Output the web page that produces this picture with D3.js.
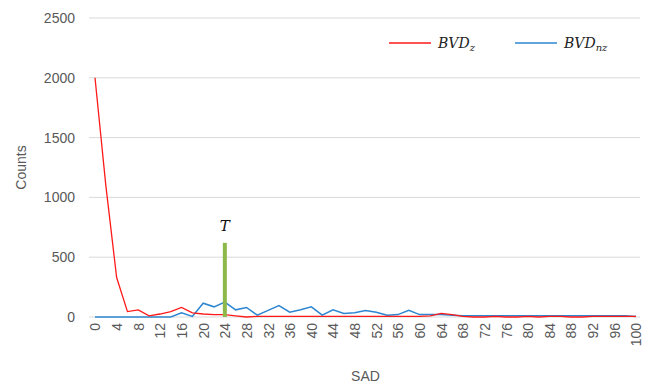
<!DOCTYPE html>
<html>
<head>
<meta charset="utf-8">
<script src="https://cdn.jsdelivr.net/npm/d3@7"></script>
<style>
  html, body { margin: 0; padding: 0; background: #fff; }
  svg { display: block; font-family: "Liberation Sans", Arial, sans-serif; }
</style>
</head>
<body>
<svg id="chart" width="657" height="387"></svg>
<script>
// SAD bins (step 2) and counts for the two block groups
const sad = d3.range(0, 101, 2);
const bvdZ = [2000, 1100, 330, 45, 60, 10, 25, 45, 80, 35,
              25, 20, 20, 10, 0, 5, 5, 5, 5, 5,
              5, 5, 5, 5, 5, 5, 5, 5, 5, 5,
              5, 10, 30, 20, 5, 0, 0, 5, 0, 0,
              5, 0, 5, 5, 0, 0, 5, 5, 5, 5, 5];
const bvdNz = [0, 0, 0, 0, 0, 0, 0, 0, 35, 5,
               115, 85, 125, 60, 80, 15, 55, 95, 40, 60,
               85, 15, 60, 30, 35, 55, 40, 15, 20, 55,
               20, 20, 20, 15, 10, 10, 10, 10, 10, 10,
               10, 10, 10, 10, 10, 10, 10, 10, 10, 10, 5];
const yTicks = [0, 500, 1000, 1500, 2000, 2500];
const xTicks = d3.range(0, 101, 4);
const threshold = { sad: 24, count: 620, label: "T" };

const svg = d3.select("#chart");
const margin = { left: 95, right: 21, top: 18, bottom: 70 };
const W = 657, H = 387;

const x = d3.scaleLinear().domain([0, 100]).range([margin.left, W - margin.right]);
const y = d3.scaleLinear().domain([0, 2500]).range([H - margin.bottom, margin.top]);

// horizontal gridlines
svg.append("g").selectAll("line").data(yTicks).join("line")
  .attr("x1", margin.left - 6).attr("x2", W - margin.right + 4)
  .attr("y1", d => y(d)).attr("y2", d => y(d))
  .attr("stroke", "#d9d9d9").attr("stroke-width", 1);

// y axis labels
const yAxis = d3.axisLeft(y).tickValues(yTicks).tickFormat(d3.format("d")).tickSize(0).tickPadding(0);
svg.append("g").attr("transform", `translate(${margin.left - 20},0)`).call(yAxis)
  .call(g => g.select(".domain").remove())
  .call(g => g.selectAll("text").attr("fill", "#595959").style("font-size", "14px"));

// x axis labels, rotated
const xAxis = d3.axisBottom(x).tickValues(xTicks).tickFormat(d3.format("d")).tickSize(0).tickPadding(0);
svg.append("g").attr("transform", `translate(0,${y(0)})`).call(xAxis)
  .call(g => g.select(".domain").remove())
  .call(g => g.selectAll("text")
    .attr("fill", "#595959").style("font-size", "14px")
    .attr("text-anchor", "end")
    .attr("transform", "rotate(-90)")
    .attr("x", -6).attr("y", 0).attr("dy", "0.35em"));

// series lines
const line = d3.line().x((d, i) => x(sad[i])).y(d => y(d));
svg.append("path").datum(bvdNz).attr("d", line)
  .attr("fill", "none").attr("stroke", "#2e86d0").attr("stroke-width", 1.5);
svg.append("path").datum(bvdZ).attr("d", line)
  .attr("fill", "none").attr("stroke", "#ff1a1a").attr("stroke-width", 1.3);

// threshold marker
svg.append("line")
  .attr("x1", x(threshold.sad)).attr("x2", x(threshold.sad))
  .attr("y1", y(0)).attr("y2", y(threshold.count))
  .attr("stroke", "#8db84a").attr("stroke-width", 4);
svg.append("text")
  .attr("x", x(threshold.sad)).attr("y", y(threshold.count) - 12)
  .attr("text-anchor", "middle")
  .style("font-family", "'DejaVu Serif', serif").style("font-style", "italic")
  .style("font-size", "15px").attr("fill", "#111")
  .text(threshold.label);

// axis titles
svg.append("text").attr("x", (x(0) + x(100)) / 2).attr("y", 381)
  .attr("text-anchor", "middle").attr("fill", "#595959").style("font-size", "14px").text("SAD");
svg.append("text").attr("transform", `translate(26,${y(1250)}) rotate(-90)`)
  .attr("text-anchor", "middle").attr("fill", "#595959").style("font-size", "14px").text("Counts");

// legend
const legend = [
  { color: "#ff1a1a", sub: "z", x0: 389 },
  { color: "#2e86d0", sub: "nz", x0: 515 }
];
const lg = svg.append("g");
legend.forEach(l => {
  lg.append("line").attr("x1", l.x0).attr("x2", l.x0 + 42).attr("y1", 43).attr("y2", 43)
    .attr("stroke", l.color).attr("stroke-width", 1.5);
  const t = lg.append("text").attr("x", l.x0 + 49).attr("y", 48)
    .style("font-family", "'DejaVu Serif', serif").style("font-style", "italic")
    .style("font-size", "14px").attr("fill", "#222");
  t.append("tspan").text("BVD");
  t.append("tspan").attr("dy", 3).style("font-size", "10px").text(l.sub);
});
</script>
</body>
</html>
